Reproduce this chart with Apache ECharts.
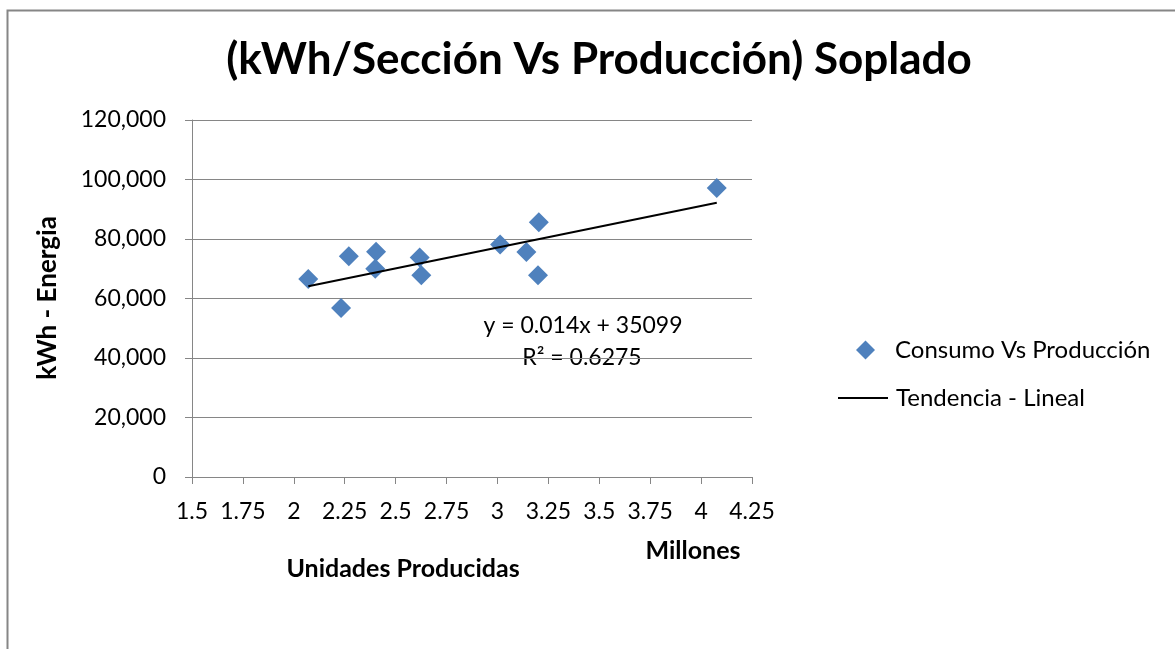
<!DOCTYPE html>
<html>
<head>
<meta charset="utf-8">
<script src="https://cdn.jsdelivr.net/npm/echarts@6/dist/echarts.min.js"></script>
<style>
html,body{margin:0;padding:0;background:#fff;}
#chart{width:1175px;height:649px;}
</style>
</head>
<body>
<div id="chart"></div>
<script>
// Data (x in millions of units, y in kWh)
const produccion = [2.071, 2.232, 2.270, 2.404, 2.400, 2.618, 2.626, 3.013, 3.142, 3.203, 3.199, 4.077];
const consumo = [66550, 56800, 74240, 75720, 70000, 73790, 67790, 78140, 75620, 85670, 67790, 97150];
const trendX = [2.071, 4.077];
const trendY = [64093, 92177];
const xTicks = ['1.5', '1.75', '2', '2.25', '2.5', '2.75', '3', '3.25', '3.5', '3.75', '4', '4.25'];
const yTicks = ['0', '20,000', '40,000', '60,000', '80,000', '100,000', '120,000'];
const titleText = '(kWh/Sección Vs Producción) Soplado';
const equationText = 'y = 0.014x + 35099';
const r2Text = 'R² = 0.6275';

const FONT = 'Lato, "Open Sans", sans-serif';
const GRAY = '#868686';
const BLUE = '#4F81BD';

const scatterData = produccion.map((x, i) => [x, consumo[i]]);
const trendData = trendX.map((x, i) => [x, trendY[i]]);

const chart = echarts.init(document.getElementById('chart'));
chart.setOption({
  animation: false,
  backgroundColor: '#fff',
  title: {
    text: titleText,
    left: 594, top: 33, textAlign: 'center',
    textStyle: {fontFamily: FONT, fontWeight: 'bold', fontSize: 44, color: '#000'}
  },
  grid: {left: 192, top: 120, width: 560, height: 357, containLabel: false},
  xAxis: {
    type: 'value', min: 1.5, max: 4.25, interval: 0.25,
    axisLine: {show: true, lineStyle: {color: GRAY, width: 1}},
    axisTick: {show: true, length: 7, lineStyle: {color: GRAY}},
    splitLine: {show: false},
    axisLabel: {
      fontFamily: FONT, fontSize: 23, color: '#000', margin: 23,
      formatter: v => xTicks[Math.round((v - 1.5) / 0.25)]
    }
  },
  yAxis: {
    type: 'value', min: 0, max: 120000, interval: 20000,
    axisLine: {show: true, lineStyle: {color: GRAY, width: 1}},
    axisTick: {show: true, length: 7, lineStyle: {color: GRAY}},
    splitLine: {show: true, lineStyle: {color: GRAY, width: 1}},
    axisLabel: {
      fontFamily: FONT, fontSize: 23, color: '#000', margin: 26,
      formatter: v => yTicks[Math.round(v / 20000)]
    }
  },
  legend: [
    {
      left: 851, top: 333, itemWidth: 19, itemHeight: 19,
      textStyle: {fontFamily: FONT, fontSize: 24, color: '#000', padding: [0, 0, 0, 15]},
      data: [{name: 'Consumo Vs Producción', icon: 'diamond'}]
    },
    {
      left: 833, top: 381, itemWidth: 50, itemHeight: 2,
      textStyle: {fontFamily: FONT, fontSize: 24, color: '#000', padding: [0, 0, 0, 3]},
      data: [{name: 'Tendencia - Lineal', icon: 'rect', itemStyle: {color: '#000'}}]
    }
  ],
  series: [
    {
      name: 'Consumo Vs Producción', type: 'scatter', symbol: 'diamond', symbolSize: 20,
      itemStyle: {color: BLUE, opacity: 1}, data: scatterData, z: 3
    },
    {
      name: 'Tendencia - Lineal', type: 'line', showSymbol: false, symbol: 'none',
      lineStyle: {color: '#000', width: 2}, itemStyle: {color: '#000'}, data: trendData, z: 4
    }
  ],
  graphic: [
    {type: 'rect', left: 5, top: 8, shape: {width: 1220, height: 700}, style: {fill: 'none', stroke: GRAY, lineWidth: 2}, silent: true, z: -1},
    {type: 'text', x: 48, y: 298, rotation: Math.PI / 2, style: {text: 'kWh - Energia', fontFamily: FONT, fontWeight: 'bold', fontSize: 26, fill: '#000', align: 'center', verticalAlign: 'middle'}},
    {type: 'text', x: 403, y: 569, style: {text: 'Unidades Producidas', fontFamily: FONT, fontWeight: 'bold', fontSize: 25, fill: '#000', align: 'center', verticalAlign: 'middle'}},
    {type: 'text', x: 693, y: 551, style: {text: 'Millones', fontFamily: FONT, fontWeight: 'bold', fontSize: 25, fill: '#000', align: 'center', verticalAlign: 'middle'}},
    {type: 'text', x: 583, y: 326, style: {text: equationText, fontFamily: FONT, fontSize: 23, fill: '#000', align: 'center', verticalAlign: 'middle'}},
    {type: 'text', x: 582, y: 358, style: {text: r2Text, fontFamily: FONT, fontSize: 23, fill: '#000', align: 'center', verticalAlign: 'middle'}}
  ]
});
</script>
</body>
</html>
